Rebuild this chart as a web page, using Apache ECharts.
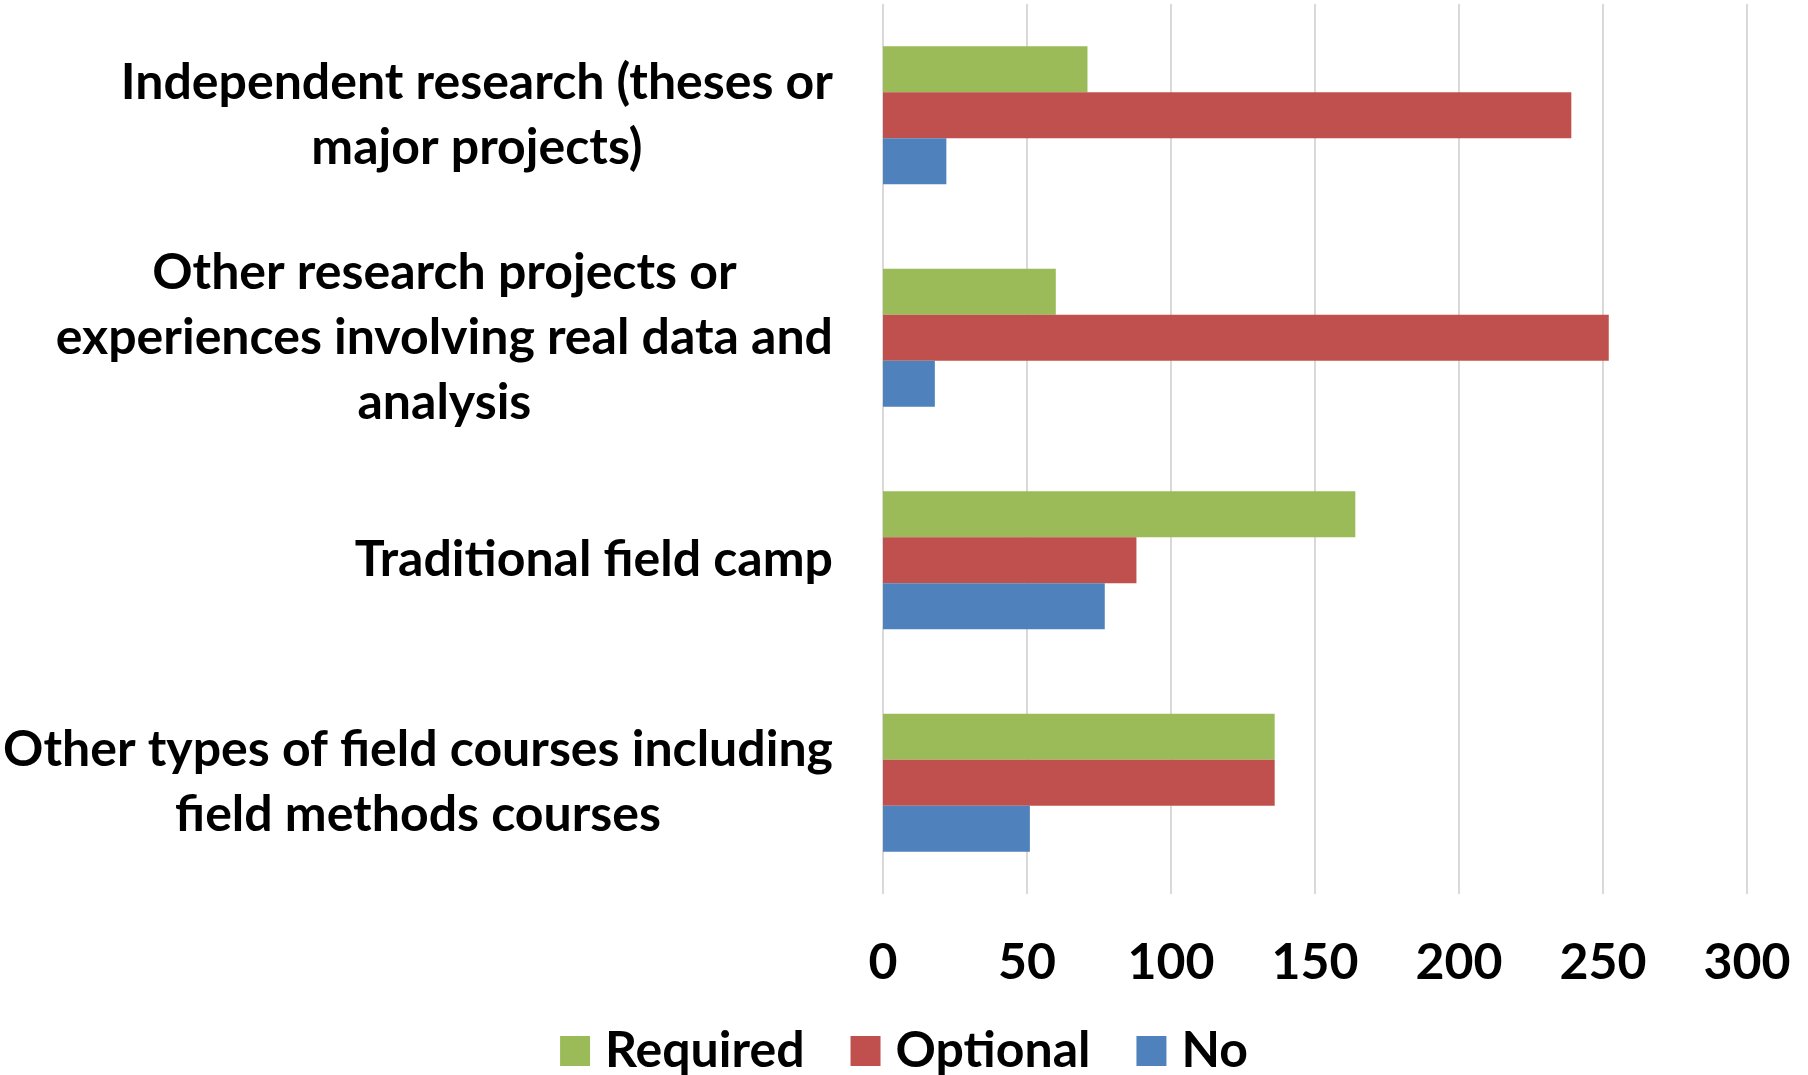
<!DOCTYPE html>
<html>
<head>
<meta charset="utf-8">
<title>Field and research experiences</title>
<script src="https://cdn.jsdelivr.net/npm/echarts@6/dist/echarts.min.js"></script>
<style>
    html, body { margin: 0; padding: 0; background: #fff; }
    #chart { width: 1808px; height: 1075px; }
</style>
</head>
<body>
<div id="chart"></div>
<script>
// categories, top to bottom (line breaks as in the original labels)
var categories = [
    'Independent research (theses or\nmajor projects)',
    'Other research projects or\nexperiences involving real data and\nanalysis',
    'Traditional field camp',
    'Other types of field courses including\nfield methods courses'
]
var seriesNames = ['Required', 'Optional', 'No']
var requiredValues = [71, 60, 164, 136]
var optionalValues = [239, 252, 88, 136]
var noValues = [22, 18, 77, 51]
var xTicks = [0, 50, 100, 150, 200, 250, 300]

var colors = ['#9BBB59', '#C0504D', '#4F81BD']
var font = 'Lato, "Noto Sans", sans-serif'
var fontSize = 50

function makeSeries(name, values, color) {
    return {
        name: name,
        type: 'bar',
        data: values,
        barGap: '0%',
        barCategoryGap: '38%',
        itemStyle: { color: color },
        emphasis: { disabled: true }
    }
}

var option = {
    animation: false,
    textStyle: { fontFamily: font },
    grid: {
        left: 883,
        right: 61,
        top: 4,
        bottom: 181,
        outerBoundsMode: 'none'
    },
    legend: {
        bottom: -6,
        left: 'center',
        icon: 'rect',
        itemWidth: 30,
        itemHeight: 30,
        itemGap: 46,
        data: seriesNames,
        textStyle: {
            fontFamily: font,
            fontWeight: 'bold',
            fontSize: fontSize,
            color: '#000',
            padding: [0, 0, 0, 10]
        }
    },
    xAxis: {
        type: 'value',
        min: xTicks[0],
        max: xTicks[xTicks.length - 1],
        interval: xTicks[1] - xTicks[0],
        axisLine: { show: false },
        axisTick: { show: false },
        splitLine: { lineStyle: { color: '#D9D9D9', width: 2 } },
        axisLabel: {
            margin: 44,
            color: '#000',
            fontFamily: font,
            fontWeight: 'bold',
            fontSize: fontSize
        }
    },
    yAxis: {
        type: 'category',
        inverse: true,
        data: categories,
        axisLine: { show: false },
        axisTick: { show: false },
        axisLabel: {
            margin: 50,
            align: 'right',
            formatter: function (v) {
                return v.split('\n').map(function (line) {
                    return '{c|' + line + '}'
                }).join('\n')
            },
            rich: {
                c: {
                    align: 'center',
                    color: '#000',
                    fontFamily: font,
                    fontWeight: 'bold',
                    fontSize: fontSize,
                    lineHeight: 65
                }
            }
        }
    },
    series: [
        makeSeries(seriesNames[0], requiredValues, colors[0]),
        makeSeries(seriesNames[1], optionalValues, colors[1]),
        makeSeries(seriesNames[2], noValues, colors[2])
    ]
}

echarts.init(document.getElementById('chart'), null, { renderer: 'canvas' }).setOption(option)
</script>
</body>
</html>
